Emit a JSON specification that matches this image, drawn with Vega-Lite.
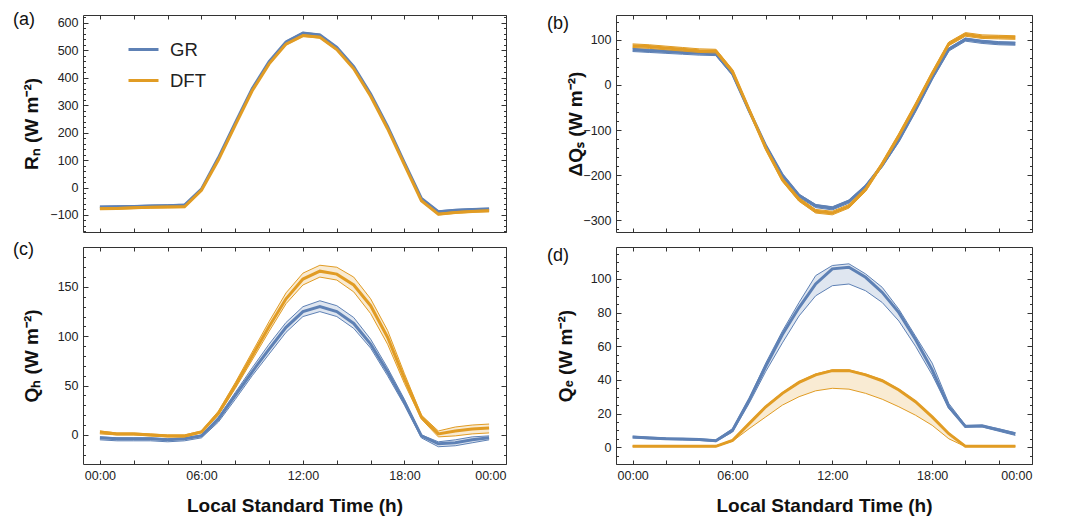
{
  "$schema": "https://vega.github.io/schema/vega-lite/v6.json",
  "padding": {"left": 12, "top": 10, "right": 5, "bottom": 0},
  "background": "white",
  "datasets": {
    "a": [
      {"s":"GR","h":0,"m":-71,"lo":-74,"hi":-68},{"s":"GR","h":1,"m":-70,"lo":-73,"hi":-67},{"s":"GR","h":2,"m":-69,"lo":-72,"hi":-66},{"s":"GR","h":3,"m":-67,"lo":-70,"hi":-64},{"s":"GR","h":4,"m":-66,"lo":-69,"hi":-63},{"s":"GR","h":5,"m":-64,"lo":-67,"hi":-61},{"s":"GR","h":6,"m":-6,"lo":-9,"hi":-3},{"s":"GR","h":7,"m":108,"lo":105,"hi":111},{"s":"GR","h":8,"m":235,"lo":232,"hi":238},{"s":"GR","h":9,"m":360,"lo":357,"hi":363},{"s":"GR","h":10,"m":458,"lo":455,"hi":461},{"s":"GR","h":11,"m":530,"lo":527,"hi":533},{"s":"GR","h":12,"m":562,"lo":559,"hi":565},{"s":"GR","h":13,"m":555,"lo":552,"hi":558},{"s":"GR","h":14,"m":510,"lo":507,"hi":513},{"s":"GR","h":15,"m":440,"lo":437,"hi":443},{"s":"GR","h":16,"m":340,"lo":337,"hi":343},{"s":"GR","h":17,"m":222,"lo":219,"hi":225},{"s":"GR","h":18,"m":90,"lo":87,"hi":93},{"s":"GR","h":19,"m":-40,"lo":-43,"hi":-37},{"s":"GR","h":20,"m":-88,"lo":-91,"hi":-85},{"s":"GR","h":21,"m":-83,"lo":-86,"hi":-80},{"s":"GR","h":22,"m":-80,"lo":-83,"hi":-77},{"s":"GR","h":23,"m":-78,"lo":-81,"hi":-75},
      {"s":"DFT","h":0,"m":-77,"lo":-80,"hi":-74},{"s":"DFT","h":1,"m":-76,"lo":-79,"hi":-73},{"s":"DFT","h":2,"m":-74,"lo":-77,"hi":-71},{"s":"DFT","h":3,"m":-72,"lo":-75,"hi":-69},{"s":"DFT","h":4,"m":-71,"lo":-74,"hi":-68},{"s":"DFT","h":5,"m":-70,"lo":-73,"hi":-67},{"s":"DFT","h":6,"m":-10,"lo":-13,"hi":-7},{"s":"DFT","h":7,"m":100,"lo":97,"hi":103},{"s":"DFT","h":8,"m":227,"lo":224,"hi":230},{"s":"DFT","h":9,"m":352,"lo":349,"hi":355},{"s":"DFT","h":10,"m":450,"lo":447,"hi":453},{"s":"DFT","h":11,"m":522,"lo":519,"hi":525},{"s":"DFT","h":12,"m":553,"lo":550,"hi":556},{"s":"DFT","h":13,"m":547,"lo":544,"hi":550},{"s":"DFT","h":14,"m":502,"lo":499,"hi":505},{"s":"DFT","h":15,"m":432,"lo":429,"hi":435},{"s":"DFT","h":16,"m":332,"lo":329,"hi":335},{"s":"DFT","h":17,"m":214,"lo":211,"hi":217},{"s":"DFT","h":18,"m":82,"lo":79,"hi":85},{"s":"DFT","h":19,"m":-48,"lo":-51,"hi":-45},{"s":"DFT","h":20,"m":-97,"lo":-100,"hi":-94},{"s":"DFT","h":21,"m":-91,"lo":-94,"hi":-88},{"s":"DFT","h":22,"m":-87,"lo":-90,"hi":-84},{"s":"DFT","h":23,"m":-85,"lo":-88,"hi":-82}
    ],
    "b": [
      {"s":"GR","h":0,"m":78,"lo":74,"hi":81},{"s":"GR","h":1,"m":76,"lo":72,"hi":79},{"s":"GR","h":2,"m":74,"lo":70,"hi":77},{"s":"GR","h":3,"m":72,"lo":68,"hi":75},{"s":"GR","h":4,"m":70,"lo":66,"hi":73},{"s":"GR","h":5,"m":69,"lo":65,"hi":72},{"s":"GR","h":6,"m":25,"lo":21,"hi":28},{"s":"GR","h":7,"m":-57,"lo":-61,"hi":-54},{"s":"GR","h":8,"m":-135,"lo":-139,"hi":-132},{"s":"GR","h":9,"m":-200,"lo":-204,"hi":-197},{"s":"GR","h":10,"m":-245,"lo":-249,"hi":-242},{"s":"GR","h":11,"m":-268,"lo":-272,"hi":-265},{"s":"GR","h":12,"m":-273,"lo":-277,"hi":-270},{"s":"GR","h":13,"m":-258,"lo":-262,"hi":-255},{"s":"GR","h":14,"m":-225,"lo":-229,"hi":-222},{"s":"GR","h":15,"m":-178,"lo":-182,"hi":-175},{"s":"GR","h":16,"m":-122,"lo":-126,"hi":-119},{"s":"GR","h":17,"m":-55,"lo":-59,"hi":-52},{"s":"GR","h":18,"m":16,"lo":12,"hi":19},{"s":"GR","h":19,"m":79,"lo":75,"hi":82},{"s":"GR","h":20,"m":101,"lo":97,"hi":104},{"s":"GR","h":21,"m":96,"lo":92,"hi":99},{"s":"GR","h":22,"m":93,"lo":89,"hi":96},{"s":"GR","h":23,"m":92,"lo":88,"hi":95},
      {"s":"DFT","h":0,"m":87,"lo":83,"hi":91},{"s":"DFT","h":1,"m":85,"lo":81,"hi":89},{"s":"DFT","h":2,"m":82,"lo":78,"hi":86},{"s":"DFT","h":3,"m":79,"lo":75,"hi":83},{"s":"DFT","h":4,"m":76,"lo":72,"hi":80},{"s":"DFT","h":5,"m":75,"lo":71,"hi":79},{"s":"DFT","h":6,"m":30,"lo":26,"hi":34},{"s":"DFT","h":7,"m":-55,"lo":-59,"hi":-51},{"s":"DFT","h":8,"m":-140,"lo":-144,"hi":-136},{"s":"DFT","h":9,"m":-210,"lo":-214,"hi":-206},{"s":"DFT","h":10,"m":-254,"lo":-258,"hi":-250},{"s":"DFT","h":11,"m":-280,"lo":-284,"hi":-276},{"s":"DFT","h":12,"m":-284,"lo":-288,"hi":-280},{"s":"DFT","h":13,"m":-269,"lo":-273,"hi":-265},{"s":"DFT","h":14,"m":-232,"lo":-236,"hi":-228},{"s":"DFT","h":15,"m":-175,"lo":-179,"hi":-171},{"s":"DFT","h":16,"m":-112,"lo":-116,"hi":-108},{"s":"DFT","h":17,"m":-45,"lo":-49,"hi":-41},{"s":"DFT","h":18,"m":25,"lo":21,"hi":29},{"s":"DFT","h":19,"m":91,"lo":87,"hi":95},{"s":"DFT","h":20,"m":112,"lo":108,"hi":116},{"s":"DFT","h":21,"m":107,"lo":103,"hi":111},{"s":"DFT","h":22,"m":106,"lo":102,"hi":110},{"s":"DFT","h":23,"m":105,"lo":101,"hi":109}
    ],
    "c": [
      {"s":"GR","h":0,"m":-3,"lo":-5,"hi":-2},{"s":"GR","h":1,"m":-4,"lo":-6,"hi":-3},{"s":"GR","h":2,"m":-4,"lo":-6,"hi":-3},{"s":"GR","h":3,"m":-4,"lo":-6,"hi":-3},{"s":"GR","h":4,"m":-5,"lo":-7,"hi":-4},{"s":"GR","h":5,"m":-4,"lo":-6,"hi":-3},{"s":"GR","h":6,"m":-1,"lo":-3,"hi":0},{"s":"GR","h":7,"m":16,"lo":13,"hi":18},{"s":"GR","h":8,"m":40,"lo":36,"hi":43},{"s":"GR","h":9,"m":64,"lo":60,"hi":68},{"s":"GR","h":10,"m":87,"lo":82,"hi":92},{"s":"GR","h":11,"m":109,"lo":104,"hi":114},{"s":"GR","h":12,"m":125,"lo":120,"hi":130},{"s":"GR","h":13,"m":130,"lo":125,"hi":136},{"s":"GR","h":14,"m":125,"lo":120,"hi":131},{"s":"GR","h":15,"m":113,"lo":108,"hi":119},{"s":"GR","h":16,"m":92,"lo":88,"hi":97},{"s":"GR","h":17,"m":64,"lo":60,"hi":68},{"s":"GR","h":18,"m":33,"lo":30,"hi":36},{"s":"GR","h":19,"m":-1,"lo":-3,"hi":0},{"s":"GR","h":20,"m":-9,"lo":-12,"hi":-7},{"s":"GR","h":21,"m":-8,"lo":-11,"hi":-5},{"s":"GR","h":22,"m":-5,"lo":-8,"hi":-2},{"s":"GR","h":23,"m":-3,"lo":-5,"hi":-1},
      {"s":"DFT","h":0,"m":3,"lo":1,"hi":4},{"s":"DFT","h":1,"m":1,"lo":0,"hi":2},{"s":"DFT","h":2,"m":1,"lo":0,"hi":2},{"s":"DFT","h":3,"m":0,"lo":-1,"hi":1},{"s":"DFT","h":4,"m":-1,"lo":-2,"hi":0},{"s":"DFT","h":5,"m":-1,"lo":-2,"hi":0},{"s":"DFT","h":6,"m":3,"lo":2,"hi":4},{"s":"DFT","h":7,"m":22,"lo":20,"hi":24},{"s":"DFT","h":8,"m":50,"lo":47,"hi":53},{"s":"DFT","h":9,"m":80,"lo":76,"hi":84},{"s":"DFT","h":10,"m":110,"lo":105,"hi":115},{"s":"DFT","h":11,"m":138,"lo":133,"hi":144},{"s":"DFT","h":12,"m":158,"lo":152,"hi":164},{"s":"DFT","h":13,"m":166,"lo":160,"hi":172},{"s":"DFT","h":14,"m":163,"lo":157,"hi":170},{"s":"DFT","h":15,"m":152,"lo":145,"hi":160},{"s":"DFT","h":16,"m":131,"lo":123,"hi":138},{"s":"DFT","h":17,"m":99,"lo":92,"hi":106},{"s":"DFT","h":18,"m":57,"lo":52,"hi":62},{"s":"DFT","h":19,"m":18,"lo":16,"hi":20},{"s":"DFT","h":20,"m":1,"lo":-2,"hi":4},{"s":"DFT","h":21,"m":4,"lo":-1,"hi":8},{"s":"DFT","h":22,"m":6,"lo":1,"hi":10},{"s":"DFT","h":23,"m":7,"lo":2,"hi":11}
    ],
    "d": [
      {"s":"GR","h":0,"m":6,"lo":5.5,"hi":6.5},{"s":"GR","h":1,"m":5.5,"lo":5,"hi":6},{"s":"GR","h":2,"m":5,"lo":4.6,"hi":5.5},{"s":"GR","h":3,"m":4.8,"lo":4.3,"hi":5.2},{"s":"GR","h":4,"m":4.5,"lo":4,"hi":5},{"s":"GR","h":5,"m":3.8,"lo":3.3,"hi":4.3},{"s":"GR","h":6,"m":10,"lo":9,"hi":11},{"s":"GR","h":7,"m":28,"lo":26,"hi":29},{"s":"GR","h":8,"m":48,"lo":45,"hi":50},{"s":"GR","h":9,"m":67,"lo":62,"hi":69},{"s":"GR","h":10,"m":83,"lo":78,"hi":86},{"s":"GR","h":11,"m":97,"lo":90,"hi":102},{"s":"GR","h":12,"m":106,"lo":96,"hi":108},{"s":"GR","h":13,"m":107,"lo":97,"hi":109},{"s":"GR","h":14,"m":101,"lo":93,"hi":103},{"s":"GR","h":15,"m":92,"lo":86,"hi":95},{"s":"GR","h":16,"m":80,"lo":75,"hi":82},{"s":"GR","h":17,"m":64,"lo":60,"hi":66},{"s":"GR","h":18,"m":46,"lo":43,"hi":50},{"s":"GR","h":19,"m":24,"lo":23,"hi":26},{"s":"GR","h":20,"m":12.3,"lo":12,"hi":13},{"s":"GR","h":21,"m":12.7,"lo":12,"hi":13},{"s":"GR","h":22,"m":10.3,"lo":9.5,"hi":11},{"s":"GR","h":23,"m":8,"lo":7,"hi":8.5},
      {"s":"DFT","h":0,"m":0.5,"lo":0.3,"hi":0.8},{"s":"DFT","h":1,"m":0.5,"lo":0.3,"hi":0.8},{"s":"DFT","h":2,"m":0.5,"lo":0.3,"hi":0.8},{"s":"DFT","h":3,"m":0.5,"lo":0.3,"hi":0.8},{"s":"DFT","h":4,"m":0.5,"lo":0.3,"hi":0.8},{"s":"DFT","h":5,"m":0.5,"lo":0.3,"hi":0.8},{"s":"DFT","h":6,"m":4,"lo":3.5,"hi":4.3},{"s":"DFT","h":7,"m":14,"lo":11,"hi":14.5},{"s":"DFT","h":8,"m":24,"lo":18,"hi":24.5},{"s":"DFT","h":9,"m":32,"lo":25,"hi":32.5},{"s":"DFT","h":10,"m":38.5,"lo":30,"hi":39},{"s":"DFT","h":11,"m":43,"lo":33.5,"hi":43.5},{"s":"DFT","h":12,"m":45.5,"lo":35,"hi":46},{"s":"DFT","h":13,"m":45.5,"lo":34.5,"hi":46},{"s":"DFT","h":14,"m":43,"lo":32,"hi":43.5},{"s":"DFT","h":15,"m":39.5,"lo":28.5,"hi":40},{"s":"DFT","h":16,"m":34,"lo":24,"hi":34.5},{"s":"DFT","h":17,"m":27,"lo":19,"hi":27.5},{"s":"DFT","h":18,"m":18,"lo":13,"hi":18.5},{"s":"DFT","h":19,"m":8,"lo":5,"hi":8.5},{"s":"DFT","h":20,"m":0.5,"lo":0.3,"hi":0.8},{"s":"DFT","h":21,"m":0.5,"lo":0.3,"hi":0.8},{"s":"DFT","h":22,"m":0.5,"lo":0.3,"hi":0.8},{"s":"DFT","h":23,"m":0.5,"lo":0.3,"hi":0.8}
    ]
  },
  "columns": 2,
  "bounds": "flush",
  "spacing": {"column": 110, "row": 15},
  "resolve": {"legend": {"color": "independent"}},
  "concat": [
    {
      "width": 423, "height": 217,
      "data": {"name": "a"},
      "title": {"text": "(a)", "anchor": "start", "frame": "group", "dx": -70, "dy": 22},
      "layer": [
        {"mark": {"type": "area", "fillOpacity": 0.2},
         "encoding": {
           "x": {"field": "h", "type": "quantitative", "scale": {"domain": [-1, 24], "nice": false, "zero": false},
                 "axis": {"orient": "bottom", "values": [0,2,4,6,8,10,12,14,16,18,20,22,24], "labels": false, "title": null, "tickSize": -4}},
           "y": {"field": "lo", "type": "quantitative", "scale": {"domain": [-162, 628], "nice": false, "zero": false},
                 "axis": {"orient": "left", "values": [-160,-140,-120,-100,-80,-60,-40,-20,0,20,40,60,80,100,120,140,160,180,200,220,240,260,280,300,320,340,360,380,400,420,440,460,480,500,520,540,560,580,600,620],
                          "labelExpr": "datum.value % 100 === 0 ? datum.label : ''",
                          "tickSize": {"condition": {"test": "datum.value % 100 === 0", "value": -5}, "value": -2.5},
                          "title": "Rₙ (W m⁻²)", "titleX": -52}},
           "y2": {"field": "hi"},
           "color": {"field": "s", "type": "nominal", "scale": {"domain": ["GR", "DFT"], "range": ["#5E81B5", "#E19C24"]},
                     "legend": {"orient": "none", "legendX": 44, "legendY": 18, "title": null}}
         }},
        {"transform": [{"fold": ["lo", "hi", "m"], "as": ["k", "v"]}],
         "mark": {"type": "line"},
         "encoding": {
           "x": {"field": "h", "type": "quantitative",
                 "axis": {"orient": "top", "values": [0,2,4,6,8,10,12,14,16,18,20,22,24], "labels": false, "title": null, "tickSize": -4}},
           "y": {"field": "v", "type": "quantitative",
                 "axis": {"orient": "right", "values": [-160,-140,-120,-100,-80,-60,-40,-20,0,20,40,60,80,100,120,140,160,180,200,220,240,260,280,300,320,340,360,380,400,420,440,460,480,500,520,540,560,580,600,620],
                          "labels": false, "title": null,
                          "tickSize": {"condition": {"test": "datum.value % 100 === 0", "value": -5}, "value": -2.5}}},
           "color": {"field": "s", "type": "nominal", "scale": {"domain": ["GR", "DFT"], "range": ["#5E81B5", "#E19C24"]},
                     "legend": {"orient": "none", "legendX": 44, "legendY": 18, "title": null}},
           "detail": {"field": "k"},
           "strokeWidth": {"condition": {"test": "datum.k === 'm'", "value": 3}, "value": 1}
         }}
      ],
      "resolve": {"axis": {"x": "independent", "y": "independent"}}
    },
    {
      "width": 416, "height": 217,
      "data": {"name": "b"},
      "title": {"text": "(b)", "anchor": "start", "frame": "group", "dx": -69, "dy": 22},
      "layer": [
        {"mark": {"type": "area", "fillOpacity": 0.2},
         "encoding": {
           "x": {"field": "h", "type": "quantitative", "scale": {"domain": [-1, 24], "nice": false, "zero": false},
                 "axis": {"orient": "bottom", "values": [0,2,4,6,8,10,12,14,16,18,20,22,24], "labels": false, "title": null, "tickSize": -4}},
           "y": {"field": "lo", "type": "quantitative", "scale": {"domain": [-326, 155], "nice": false, "zero": false},
                 "axis": {"orient": "left", "values": [-320,-300,-280,-260,-240,-220,-200,-180,-160,-140,-120,-100,-80,-60,-40,-20,0,20,40,60,80,100,120,140],
                          "labelExpr": "datum.value % 100 === 0 ? datum.label : ''",
                          "tickSize": {"condition": {"test": "datum.value % 100 === 0", "value": -5}, "value": -2.5},
                          "title": "ΔQₛ (W m⁻²)", "titleX": -41}},
           "y2": {"field": "hi"},
           "color": {"field": "s", "type": "nominal", "scale": {"domain": ["GR", "DFT"], "range": ["#5E81B5", "#E19C24"]}, "legend": null}
         }},
        {"transform": [{"fold": ["lo", "hi", "m"], "as": ["k", "v"]}],
         "mark": {"type": "line"},
         "encoding": {
           "x": {"field": "h", "type": "quantitative",
                 "axis": {"orient": "top", "values": [0,2,4,6,8,10,12,14,16,18,20,22,24], "labels": false, "title": null, "tickSize": -4}},
           "y": {"field": "v", "type": "quantitative",
                 "axis": {"orient": "right", "values": [-320,-300,-280,-260,-240,-220,-200,-180,-160,-140,-120,-100,-80,-60,-40,-20,0,20,40,60,80,100,120,140],
                          "labels": false, "title": null,
                          "tickSize": {"condition": {"test": "datum.value % 100 === 0", "value": -5}, "value": -2.5}}},
           "color": {"field": "s", "type": "nominal", "scale": {"domain": ["GR", "DFT"], "range": ["#5E81B5", "#E19C24"]}, "legend": null},
           "detail": {"field": "k"},
           "strokeWidth": {"condition": {"test": "datum.k === 'm'", "value": 3}, "value": 1}
         }}
      ],
      "resolve": {"axis": {"x": "independent", "y": "independent"}}
    },
    {
      "width": 423, "height": 217,
      "data": {"name": "c"},
      "title": {"text": "(c)", "anchor": "start", "frame": "group", "dx": -70, "dy": 22},
      "layer": [
        {"mark": {"type": "area", "fillOpacity": 0.2},
         "encoding": {
           "x": {"field": "h", "type": "quantitative", "scale": {"domain": [-1, 24], "nice": false, "zero": false},
                 "axis": {"orient": "bottom", "values": [0,2,4,6,8,10,12,14,16,18,20,22,24],
                          "labelExpr": "datum.value % 6 === 0 ? ((datum.value % 24) < 10 ? '0' : '') + (datum.value % 24) + ':00' : ''",
                          "title": "Local Standard Time (h)", "tickSize": -4, "labelPadding": 9, "titlePadding": 24}},
           "y": {"field": "lo", "type": "quantitative", "scale": {"domain": [-29.5, 190.5], "nice": false, "zero": false},
                 "axis": {"orient": "left", "values": [-20,-10,0,10,20,30,40,50,60,70,80,90,100,110,120,130,140,150,160,170,180,190],
                          "labelExpr": "datum.value % 50 === 0 ? datum.label : ''",
                          "tickSize": {"condition": {"test": "datum.value % 50 === 0", "value": -5}, "value": -2.5},
                          "title": "Qₕ (W m⁻²)", "titleX": -52}},
           "y2": {"field": "hi"},
           "color": {"field": "s", "type": "nominal", "scale": {"domain": ["GR", "DFT"], "range": ["#5E81B5", "#E19C24"]}, "legend": null}
         }},
        {"transform": [{"fold": ["lo", "hi", "m"], "as": ["k", "v"]}],
         "mark": {"type": "line"},
         "encoding": {
           "x": {"field": "h", "type": "quantitative",
                 "axis": {"orient": "top", "values": [0,2,4,6,8,10,12,14,16,18,20,22,24], "labels": false, "title": null, "tickSize": -4}},
           "y": {"field": "v", "type": "quantitative",
                 "axis": {"orient": "right", "values": [-20,-10,0,10,20,30,40,50,60,70,80,90,100,110,120,130,140,150,160,170,180,190],
                          "labels": false, "title": null,
                          "tickSize": {"condition": {"test": "datum.value % 50 === 0", "value": -5}, "value": -2.5}}},
           "color": {"field": "s", "type": "nominal", "scale": {"domain": ["GR", "DFT"], "range": ["#5E81B5", "#E19C24"]}, "legend": null},
           "detail": {"field": "k"},
           "strokeWidth": {"condition": {"test": "datum.k === 'm'", "value": 3}, "value": 1}
         }}
      ],
      "resolve": {"axis": {"x": "independent", "y": "independent"}}
    },
    {
      "width": 416, "height": 217,
      "data": {"name": "d"},
      "title": {"text": "(d)", "anchor": "start", "frame": "group", "dx": -69, "dy": 22},
      "layer": [
        {"mark": {"type": "area", "fillOpacity": 0.2},
         "encoding": {
           "x": {"field": "h", "type": "quantitative", "scale": {"domain": [-1, 24], "nice": false, "zero": false},
                 "axis": {"orient": "bottom", "values": [0,2,4,6,8,10,12,14,16,18,20,22,24],
                          "labelExpr": "datum.value % 6 === 0 ? ((datum.value % 24) < 10 ? '0' : '') + (datum.value % 24) + ':00' : ''",
                          "title": "Local Standard Time (h)", "tickSize": -4, "labelPadding": 9, "titlePadding": 24}},
           "y": {"field": "lo", "type": "quantitative", "scale": {"domain": [-10, 119], "nice": false, "zero": false},
                 "axis": {"orient": "left", "values": [-10,-5,0,5,10,15,20,25,30,35,40,45,50,55,60,65,70,75,80,85,90,95,100,105,110,115],
                          "labelExpr": "datum.value % 20 === 0 ? datum.label : ''",
                          "tickSize": {"condition": {"test": "datum.value % 20 === 0", "value": -5}, "value": -2.5},
                          "title": "Qₑ (W m⁻²)", "titleX": -51}},
           "y2": {"field": "hi"},
           "color": {"field": "s", "type": "nominal", "scale": {"domain": ["GR", "DFT"], "range": ["#5E81B5", "#E19C24"]}, "legend": null}
         }},
        {"transform": [{"fold": ["lo", "hi", "m"], "as": ["k", "v"]}],
         "mark": {"type": "line"},
         "encoding": {
           "x": {"field": "h", "type": "quantitative",
                 "axis": {"orient": "top", "values": [0,2,4,6,8,10,12,14,16,18,20,22,24], "labels": false, "title": null, "tickSize": -4}},
           "y": {"field": "v", "type": "quantitative",
                 "axis": {"orient": "right", "values": [-10,-5,0,5,10,15,20,25,30,35,40,45,50,55,60,65,70,75,80,85,90,95,100,105,110,115],
                          "labels": false, "title": null,
                          "tickSize": {"condition": {"test": "datum.value % 20 === 0", "value": -5}, "value": -2.5}}},
           "color": {"field": "s", "type": "nominal", "scale": {"domain": ["GR", "DFT"], "range": ["#5E81B5", "#E19C24"]}, "legend": null},
           "detail": {"field": "k"},
           "strokeWidth": {"condition": {"test": "datum.k === 'm'", "value": 3}, "value": 1}
         }}
      ],
      "resolve": {"axis": {"x": "independent", "y": "independent"}}
    }
  ],
  "config": {
    "font": "Liberation Sans",
    "view": {"stroke": "#333", "strokeWidth": 1},
    "axis": {"domain": false, "grid": false, "labelFont": "Liberation Sans", "labelFontSize": 12.5, "labelColor": "#222",
             "labelOverlap": false, "labelPadding": 10, "tickColor": "#333", "tickWidth": 1,
             "titleFont": "Liberation Sans", "titleFontSize": 19, "titleFontWeight": "bold", "titleColor": "#111",
             "titleBaseline": "middle"},
    "legend": {"symbolType": "stroke", "symbolSize": 900, "symbolStrokeWidth": 3, "symbolOpacity": 1,
               "labelFont": "Liberation Sans", "labelFontSize": 18.5, "labelColor": "#222", "labelOffset": 10,
               "rowPadding": 5, "padding": 0},
    "title": {"font": "Liberation Sans", "fontSize": 18, "fontWeight": "normal", "color": "#111"}
  }
}
